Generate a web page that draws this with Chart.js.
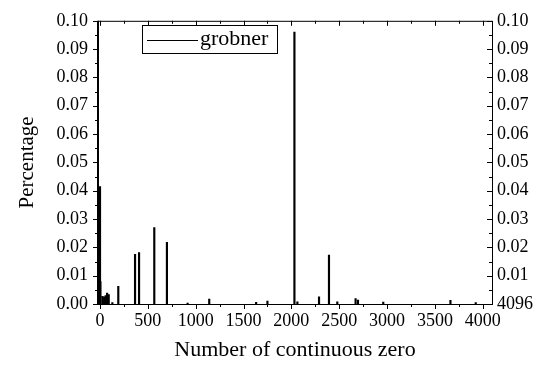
<!DOCTYPE html>
<html>
<head>
<meta charset="utf-8">
<script src="https://cdn.jsdelivr.net/npm/chart.js@4/dist/chart.umd.min.js"></script>
<style>
  html, body { margin: 0; padding: 0; background: #fff; }
  #wrap { width: 548px; height: 374px; }
</style>
</head>
<body>
<div id="wrap"><canvas id="chart" width="548" height="374"></canvas></div>
<script>
// spike positions (number of continuous zero) and their percentages
const zeroRuns = [1, 5, 26, 44, 60, 75, 92, 130, 192, 367, 409, 568, 700, 916, 1142, 1632, 1750, 2032, 2063, 2289, 2393, 2480, 2671, 2696, 2960, 3662, 3926];
const percents = [0.0415, 0.0079, 0.0027, 0.0025, 0.0030, 0.0039, 0.0033, 0.0005, 0.0062, 0.0175, 0.0182, 0.0270, 0.0218, 0.0003, 0.0017, 0.0006, 0.0010, 0.0960, 0.0008, 0.0025, 0.0173, 0.0008, 0.0019, 0.0014, 0.0007, 0.0013, 0.0005];

const xTicks = [0, 500, 1000, 1500, 2000, 2500, 3000, 3500, 4000];
const yTicks = [0, 0.01, 0.02, 0.03, 0.04, 0.05, 0.06, 0.07, 0.08, 0.09, 0.10];

const seriesName = 'grobner';
const xTitle = 'Number of continuous zero';
const yTitle = 'Percentage';
const rightZeroLabel = '4096';

const FONT = 'Liberation Serif';

const points = zeroRuns.map((x, i) => ({ x: x, y: percents[i] }));

// frame, minor ticks and inward ticks on top/right
const framePlugin = {
    id: 'frame',
    afterDraw(chart) {
        const ctx = chart.ctx;
        const a = chart.chartArea;
        const xs = chart.scales.x;
        const ys = chart.scales.y;
        ctx.save();
        ctx.strokeStyle = '#000';
        ctx.lineWidth = 1;
        ctx.beginPath();
        for (let v = 0; v <= 4000; v += 250) {
            const px = Math.round(xs.getPixelForValue(v)) + 0.5;
            const len = v % 500 === 0 ? 5 : 3;
            ctx.moveTo(px, a.bottom); ctx.lineTo(px, a.bottom + len);
            ctx.moveTo(px, a.top); ctx.lineTo(px, a.top + len);
        }
        for (let i = 0; i <= 20; i++) {
            const py = Math.round(ys.getPixelForValue(i * 0.005)) + 0.5;
            const len = i % 2 === 0 ? 5 : 3;
            ctx.moveTo(a.left - len, py); ctx.lineTo(a.left, py);
            ctx.moveTo(a.right - len, py); ctx.lineTo(a.right, py);
        }
        ctx.moveTo(a.left, a.top + 0.5); ctx.lineTo(a.right, a.top + 0.5);
        ctx.moveTo(a.left, a.bottom + 0.5); ctx.lineTo(a.right, a.bottom + 0.5);
        ctx.moveTo(a.right + 0.5, a.top); ctx.lineTo(a.right + 0.5, a.bottom + 1);
        ctx.stroke();
        ctx.lineWidth = 2;
        ctx.beginPath();
        ctx.moveTo(a.left, a.top); ctx.lineTo(a.left, a.bottom + 1);
        ctx.stroke();

        // legend box
        const bx = 142, by = 25, bw = 135, bh = 28;
        ctx.lineWidth = 1;
        ctx.strokeRect(bx + 0.5, by + 0.5, bw, bh);
        ctx.beginPath();
        ctx.moveTo(bx + 5, by + 15.5); ctx.lineTo(bx + 56, by + 15.5);
        ctx.stroke();
        ctx.fillStyle = '#000';
        ctx.font = '22px "' + FONT + '"';
        ctx.textBaseline = 'middle';
        ctx.textAlign = 'left';
        ctx.fillText(seriesName, bx + 58, by + 14);
        ctx.restore();
    }
};

new Chart(document.getElementById('chart'), {
    type: 'bar',
    data: {
        datasets: [{
            label: seriesName,
            data: points,
            backgroundColor: '#000',
            borderWidth: 0,
            barThickness: 1.5,
            yAxisID: 'y'
        }]
    },
    options: {
        responsive: false,
        animation: false,
        layout: { padding: { top: 11, left: 0, right: 0, bottom: 0 } },
        plugins: {
            legend: { display: false },
            tooltip: { enabled: false }
        },
        scales: {
            x: {
                type: 'linear',
                offset: false,
                min: -20,
                max: 4096,
                grid: { display: false, drawTicks: false },
                border: { display: false },
                afterBuildTicks(scale) { scale.ticks = xTicks.map(v => ({ value: v })); },
                ticks: {
                    autoSkip: false,
                    maxRotation: 0,
                    padding: 6,
                    color: '#000',
                    font: { family: FONT, size: 18 },
                    callback: v => String(v)
                },
                title: {
                    display: true,
                    text: xTitle,
                    color: '#000',
                    font: { family: FONT, size: 22 },
                    padding: { top: 0, bottom: 11 }
                },
                afterFit(scale) { scale.height = 70; }
            },
            y: {
                position: 'left',
                min: 0,
                max: 0.1,
                grid: { display: false, drawTicks: false },
                border: { display: false },
                afterBuildTicks(scale) { scale.ticks = yTicks.map(v => ({ value: v })); },
                ticks: {
                    autoSkip: false,
                    padding: 10,
                    color: '#000',
                    font: { family: FONT, size: 18 },
                    callback: v => v.toFixed(2)
                },
                title: {
                    display: true,
                    text: yTitle,
                    color: '#000',
                    font: { family: FONT, size: 21 },
                    padding: { top: 15, bottom: 0 }
                },
                afterFit(scale) { scale.width = 98; }
            },
            y2: {
                position: 'right',
                min: 0,
                max: 0.1,
                grid: { display: false, drawTicks: false },
                border: { display: false },
                afterBuildTicks(scale) { scale.ticks = yTicks.map(v => ({ value: v })); },
                ticks: {
                    autoSkip: false,
                    padding: 5,
                    color: '#000',
                    font: { family: FONT, size: 18 },
                    callback: v => Math.abs(v) < 1e-9 ? rightZeroLabel : v.toFixed(2)
                },
                afterFit(scale) { scale.width = 56; }
            }
        }
    },
    plugins: [framePlugin]
});
</script>
</body>
</html>
